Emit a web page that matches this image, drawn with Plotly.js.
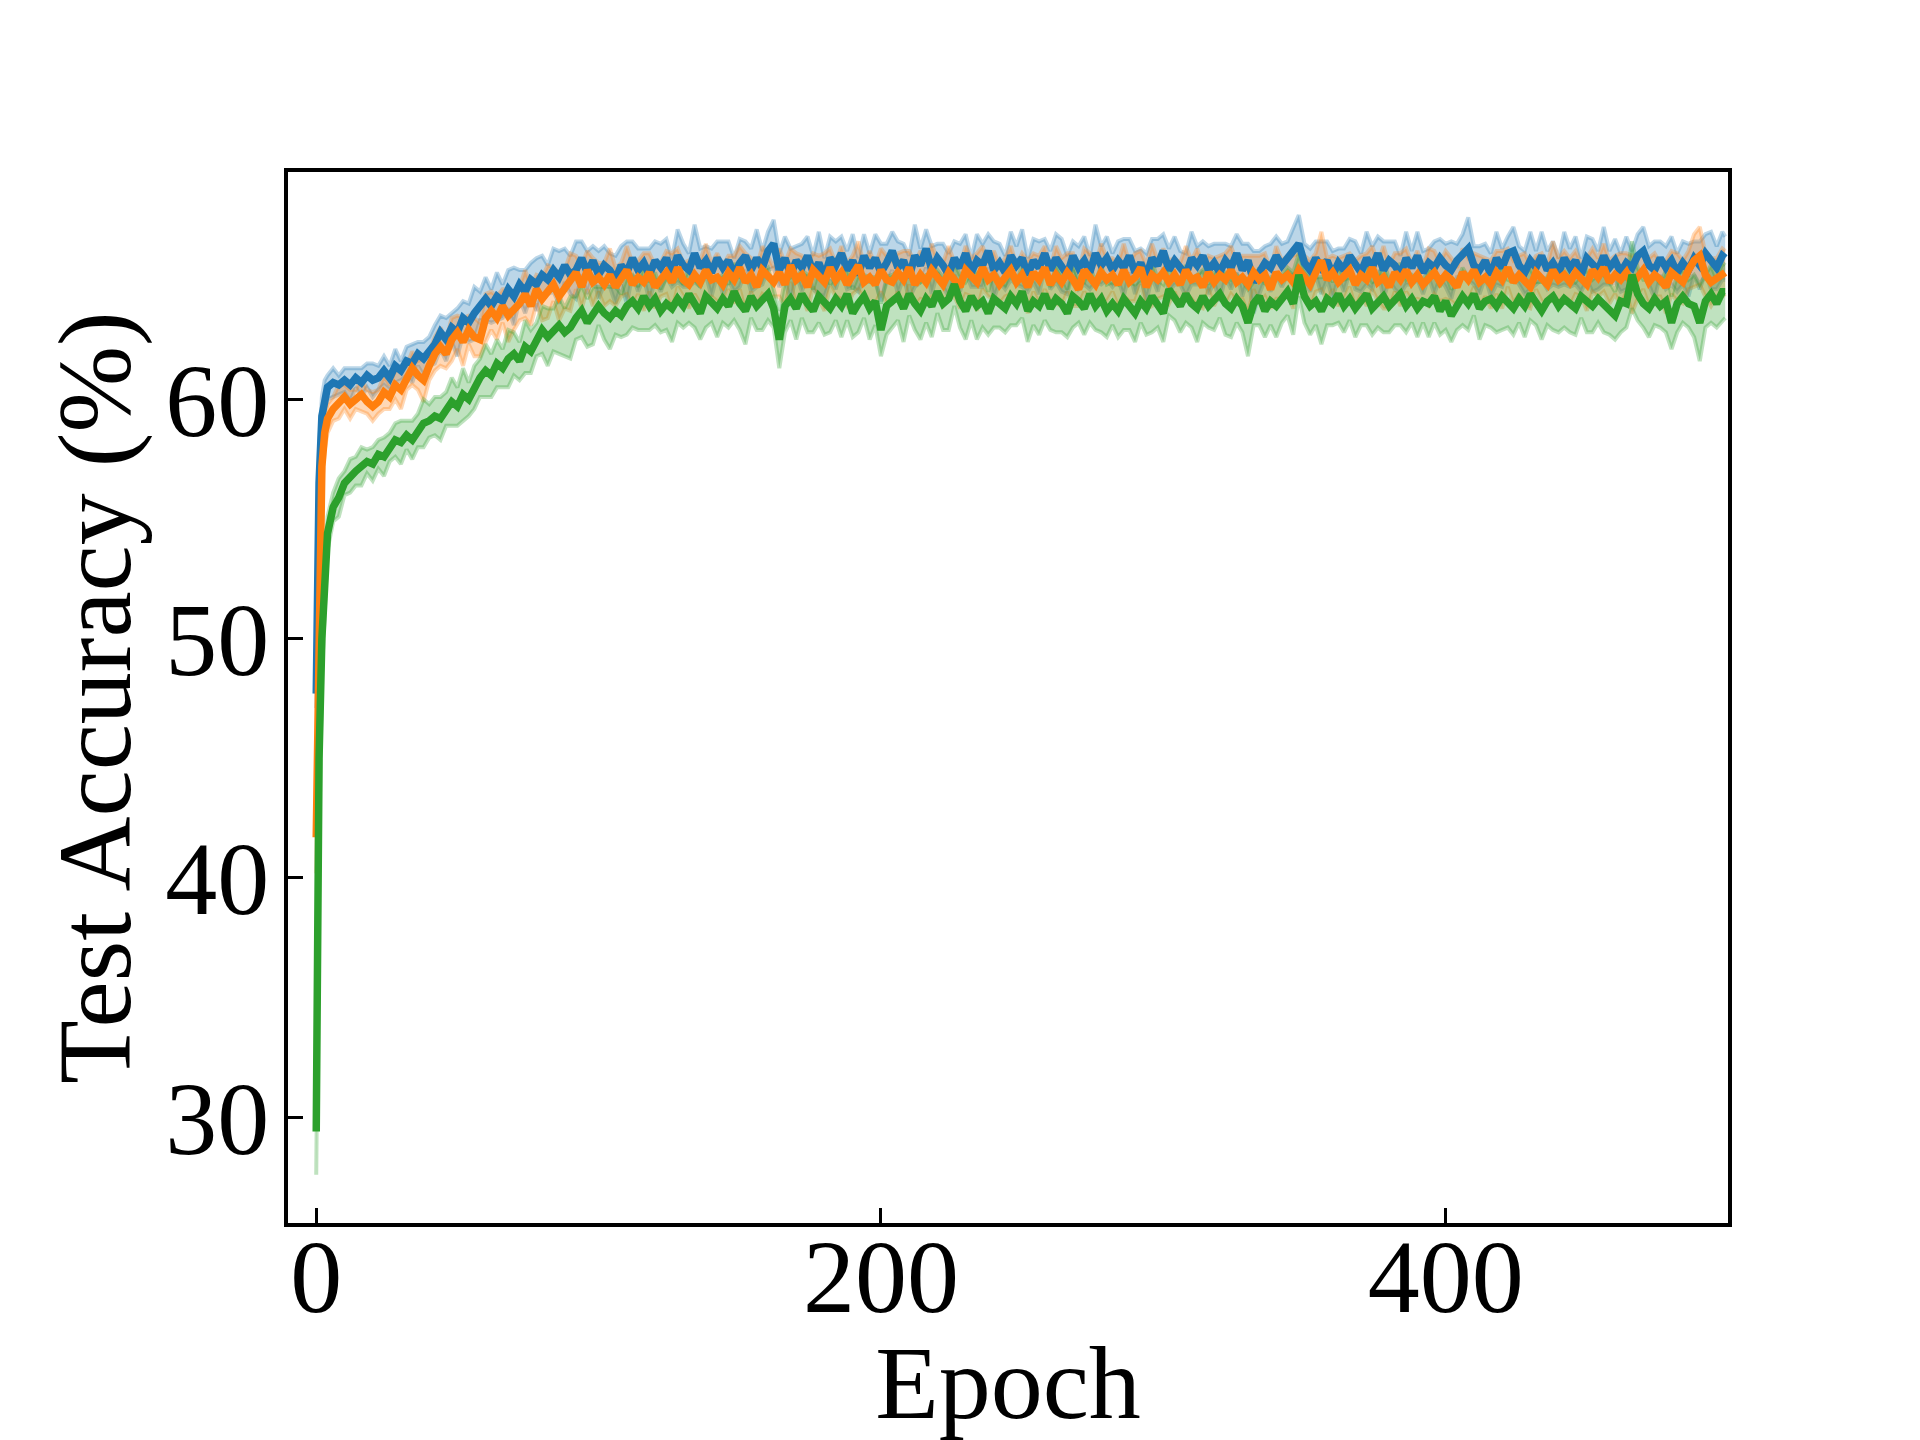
<!DOCTYPE html>
<html>
<head>
<meta charset="utf-8">
<script src="https://cdn.plot.ly/plotly-3.0.1.min.js"></script>
<style>
  body { margin: 0; background: #fff; }
  #chart { width: 1920px; height: 1440px; }
</style>
</head>
<body>
<div id="chart"></div>
<script>
// epochs: each of the first four, then every second epoch
var epochs = [0, 1, 2, 3,
    4, 6, 8, 10, 12, 14, 16, 18, 20, 22,
    24, 26, 28, 30, 32, 34, 36, 38, 40, 42,
    44, 46, 48, 50, 52, 54, 56, 58, 60, 62,
    64, 66, 68, 70, 72, 74, 76, 78, 80, 82,
    84, 86, 88, 90, 92, 94, 96, 98, 100, 102,
    104, 106, 108, 110, 112, 114, 116, 118, 120, 122,
    124, 126, 128, 130, 132, 134, 136, 138, 140, 142,
    144, 146, 148, 150, 152, 154, 156, 158, 160, 162,
    164, 166, 168, 170, 172, 174, 176, 178, 180, 182,
    184, 186, 188, 190, 192, 194, 196, 198, 200, 202,
    204, 206, 208, 210, 212, 214, 216, 218, 220, 222,
    224, 226, 228, 230, 232, 234, 236, 238, 240, 242,
    244, 246, 248, 250, 252, 254, 256, 258, 260, 262,
    264, 266, 268, 270, 272, 274, 276, 278, 280, 282,
    284, 286, 288, 290, 292, 294, 296, 298, 300, 302,
    304, 306, 308, 310, 312, 314, 316, 318, 320, 322,
    324, 326, 328, 330, 332, 334, 336, 338, 340, 342,
    344, 346, 348, 350, 352, 354, 356, 358, 360, 362,
    364, 366, 368, 370, 372, 374, 376, 378, 380, 382,
    384, 386, 388, 390, 392, 394, 396, 398, 400, 402,
    404, 406, 408, 410, 412, 414, 416, 418, 420, 422,
    424, 426, 428, 430, 432, 434, 436, 438, 440, 442,
    444, 446, 448, 450, 452, 454, 456, 458, 460, 462,
    464, 466, 468, 470, 472, 474, 476, 478, 480, 482,
    484, 486, 488, 490, 492, 494, 496, 498,
    499];

var blueMean = [47.7, 56.5, 59.3, 60.2,
    60.5, 60.7, 60.6, 60.8, 60.6, 60.9, 60.7, 61.0, 60.8, 60.9,
    61.2, 60.9, 61.4, 61.2, 61.6, 61.5, 61.9, 61.7, 62.0, 62.3,
    62.8, 62.5, 63.0, 62.8, 63.4, 63.2, 63.6, 63.9, 64.2, 63.9,
    64.3, 64.1, 64.6, 64.3, 64.8, 64.5, 65.0, 64.8, 65.2, 65.0,
    65.4, 65.1, 65.6, 65.2, 65.4, 65.9, 65.3, 65.8, 65.2, 65.6,
    65.4, 65.0, 65.6, 65.3, 65.9, 65.4, 65.7, 65.2, 65.8, 65.5,
    65.9, 65.3, 66.0, 65.6, 65.4, 66.1, 65.5, 65.8, 65.3, 65.9,
    65.5, 65.8, 65.2, 65.7, 66.0, 65.4, 65.9, 65.5, 66.2, 66.5,
    65.4, 65.9, 65.2, 65.8, 65.5, 66.0, 65.3, 65.7, 65.1, 65.9,
    65.6, 66.1, 65.4, 65.8, 65.2, 66.0, 65.5, 65.9, 65.3, 65.7,
    66.2, 65.5, 65.8, 65.1, 66.0, 65.6, 66.3, 65.4, 65.9, 65.6,
    65.2, 65.9, 65.5, 66.1, 65.3, 65.8, 65.6, 66.2, 65.4, 65.7,
    65.3, 66.0, 65.6, 65.9, 65.2, 65.8, 65.5, 66.1, 65.4, 65.9,
    65.6, 65.2, 66.0, 65.5, 65.8, 65.3, 66.1, 65.6, 65.9, 65.4,
    65.8, 65.5, 66.0, 65.3, 65.7, 65.1, 65.9, 65.6, 66.2, 65.4,
    65.8, 65.5, 65.2, 65.9, 65.6, 66.0, 65.4, 65.7, 65.3, 65.8,
    65.5, 66.1, 65.4, 65.8, 64.9, 65.3, 65.7, 65.5, 66.0, 65.6,
    65.9, 66.2, 66.5, 65.7, 65.4, 65.9, 65.5, 65.8, 65.2, 65.7,
    65.4, 66.0, 65.6, 65.3, 65.9, 65.5, 66.1, 65.4, 65.8, 65.6,
    65.2, 65.9, 65.5, 66.0, 65.3, 65.7, 65.5, 65.9, 65.6, 65.4,
    65.8, 66.0, 66.3, 65.6, 65.4, 65.8, 65.2, 65.9, 65.5, 66.1,
    66.2, 65.6, 65.3, 65.8, 65.5, 66.0, 65.4, 65.7, 65.3, 65.9,
    65.5, 65.8, 65.2, 65.9, 65.6, 65.4, 66.0, 65.5, 65.8, 65.3,
    65.7, 65.5, 66.0, 66.2, 65.6, 65.4, 65.9, 65.5, 65.8, 65.3,
    65.7, 65.4, 65.9, 65.6, 66.1, 65.8, 65.5, 66.0,
    65.9];
var blueStd = [0.6, 1.5, 0.8, 0.6,
    0.5, 0.6, 0.4, 0.5, 0.7, 0.4, 0.6, 0.5, 0.7, 0.5,
    0.6, 0.5, 0.7, 0.4, 0.6, 0.8, 0.5, 0.7, 0.6, 0.8,
    0.7, 0.9, 0.6, 1.0, 0.7, 0.8, 1.1, 0.6, 0.9, 0.7,
    1.0, 0.7, 0.8, 1.2, 0.6, 0.9, 0.7, 1.1, 0.8, 0.6,
    0.9, 1.1, 0.7, 0.8, 1.2, 0.7, 0.9, 0.6, 1.0, 0.8,
    0.7, 1.0, 0.8, 1.3, 0.7, 0.9, 0.6, 1.1, 0.8, 1.0,
    0.8, 0.6, 1.1, 0.9, 0.7, 1.2, 0.8, 0.6, 1.0, 0.7,
    1.1, 0.8, 0.7, 1.0, 0.6, 0.9, 1.2, 0.7, 0.8, 1.0,
    0.7, 0.9, 1.1, 0.6, 1.0, 0.8, 0.7, 1.3, 0.8, 0.9,
    1.0, 0.7, 0.8, 1.1, 0.7, 0.9, 0.6, 1.0, 1.2, 0.8,
    0.8, 1.1, 0.7, 0.9, 1.3, 0.7, 0.8, 1.0, 0.6, 0.9,
    0.9, 0.7, 1.0, 0.8, 0.6, 1.1, 0.9, 0.7, 1.2, 0.8,
    0.7, 1.0, 0.8, 1.2, 0.7, 0.9, 1.1, 0.6, 0.8, 1.0,
    1.1, 0.8, 0.6, 0.9, 1.0, 0.7, 1.2, 0.8, 0.9, 0.7,
    0.8, 1.2, 0.7, 0.9, 0.6, 1.0, 0.8, 1.1, 0.7, 0.9,
    1.0, 0.7, 0.9, 1.1, 0.8, 0.6, 1.0, 0.8, 1.2, 0.7,
    0.9, 0.8, 1.1, 0.7, 1.3, 0.9, 0.7, 1.0, 0.8, 0.9,
    0.7, 1.0, 1.2, 0.8, 0.9, 0.7, 1.1, 0.8, 1.0, 0.6,
    0.9, 0.7, 1.0, 0.8, 1.1, 0.9, 0.7, 1.2, 0.8, 1.0,
    0.8, 1.1, 0.7, 1.0, 0.9, 0.6, 1.1, 0.8, 0.9, 1.2,
    0.7, 0.9, 1.3, 0.8, 1.0, 0.7, 0.9, 1.1, 0.8, 0.7,
    1.0, 0.8, 0.9, 1.2, 0.7, 1.0, 0.8, 0.9, 0.6, 1.1,
    0.8, 1.0, 0.7, 0.9, 1.1, 0.8, 1.2, 0.7, 0.9, 0.8,
    1.1, 0.7, 0.9, 1.0, 0.8, 1.2, 0.7, 0.9, 1.0, 0.8,
    0.9, 1.1, 0.7, 1.0, 0.8, 1.2, 0.9, 1.0,
    0.9];

var orangeMean = [41.7, 52.7, 57.2, 58.6,
    59.2, 59.6, 59.9, 60.1, 59.8, 60.0, 60.2, 59.9, 59.7, 59.9,
    60.3, 60.1, 60.6, 60.4, 60.9, 61.3, 61.0, 60.8, 61.4, 61.9,
    62.2, 61.9, 62.5, 62.8, 62.4, 62.9, 62.6, 62.5, 63.4, 63.7,
    63.4, 63.9, 63.5, 63.7, 64.0, 64.4, 63.9, 64.6, 64.2, 64.5,
    64.8, 64.3, 64.6, 64.9, 65.3, 64.7, 65.4, 64.9, 65.1, 64.8,
    65.2, 64.7, 65.0, 65.4, 64.8, 65.1, 64.9, 65.3, 64.7, 65.0,
    65.3, 64.9, 65.5, 65.0, 64.8, 65.2, 64.9, 65.4, 65.0, 65.1,
    64.8, 65.3, 65.0, 65.5, 64.9, 65.2, 64.7, 65.4, 65.1, 64.9,
    65.3, 64.8, 65.6, 65.0, 65.2, 64.7, 65.4, 65.1, 64.9, 65.5,
    65.0, 65.3, 64.8, 65.2, 65.6, 64.9, 65.1, 64.8, 65.4, 65.0,
    64.9, 65.3, 65.0, 65.5, 64.8, 65.2, 64.9, 65.4, 65.1, 64.8,
    65.3, 65.0, 64.7, 65.4, 65.1, 64.9, 65.5, 65.0, 65.2, 64.8,
    65.1, 65.4, 64.9, 65.2, 64.7, 65.3, 65.0, 65.5, 64.8, 65.2,
    64.9, 65.3, 65.0, 64.6, 65.4, 65.1, 64.8, 65.3, 65.0, 65.2,
    64.8, 65.4, 64.9, 65.1, 65.5, 64.7, 65.2, 65.0, 65.3, 64.9,
    65.2, 64.8, 65.4, 65.0, 65.1, 64.7, 65.3, 64.9, 65.2, 65.0,
    65.4, 64.9, 65.1, 64.8, 65.3, 65.0, 65.2, 64.6, 65.3, 65.0,
    65.2, 64.9, 65.4, 65.1, 64.8, 65.3, 65.8, 65.0, 65.3, 64.9,
    65.1, 65.4, 64.8, 65.2, 65.0, 65.5, 64.9, 65.1, 64.7, 65.3,
    65.0, 65.4, 64.9, 65.2, 64.8, 65.1, 65.3, 64.9, 65.2, 65.0,
    64.7, 65.3, 65.0, 65.4, 64.9, 65.1, 64.8, 65.3, 65.0, 65.5,
    64.9, 65.2, 65.0, 64.7, 65.3, 65.1, 64.8, 65.4, 65.0, 65.2,
    64.9, 65.3, 65.0, 64.8, 65.4, 65.1, 65.5, 64.9, 65.2, 65.0,
    65.3, 64.8, 65.1, 65.4, 64.9, 65.2, 65.0, 64.7, 65.3, 65.1,
    64.9, 65.4, 65.8, 66.0, 65.2, 64.9, 65.1, 65.3,
    65.3];
var orangeStd = [1.5, 2.0, 1.0, 0.7,
    0.6, 0.5, 0.7, 0.5, 0.6, 0.4, 0.7, 0.5, 0.6, 0.5,
    0.7, 0.5, 0.6, 0.8, 0.5, 0.7, 0.6, 0.9, 0.6, 0.7,
    0.8, 0.6, 0.9, 0.7, 1.0, 0.6, 0.8, 0.7, 1.0, 0.8,
    0.9, 0.7, 1.1, 0.8, 0.7, 1.0, 0.8, 0.6, 0.9, 1.1,
    0.7, 1.0, 0.8, 1.2, 0.7, 0.9, 0.8, 1.0, 0.6, 0.9,
    1.1, 0.8, 0.7, 1.0, 0.9, 0.7, 1.2, 0.8, 0.9, 0.7,
    0.9, 1.2, 0.8, 0.7, 1.0, 0.8, 0.9, 1.1, 0.7, 1.0,
    0.8, 0.7, 1.0, 0.9, 1.2, 0.7, 0.8, 1.0, 0.9, 0.6,
    1.0, 0.9, 0.7, 1.1, 0.8, 1.0, 0.7, 0.9, 1.2, 0.8,
    0.7, 1.1, 0.9, 0.8, 1.0, 0.7, 1.1, 0.8, 0.9, 1.0,
    0.9, 0.8, 1.2, 0.7, 0.9, 1.0, 0.8, 1.1, 0.7, 0.9,
    1.1, 0.7, 0.9, 1.0, 0.8, 1.2, 0.9, 0.7, 1.0, 0.8,
    0.8, 1.0, 0.7, 0.9, 1.1, 0.8, 1.0, 0.9, 0.7, 1.2,
    1.0, 0.8, 1.1, 0.7, 0.9, 1.0, 0.8, 1.2, 0.9, 0.7,
    0.9, 1.1, 0.8, 1.0, 0.7, 0.9, 1.3, 0.8, 1.0, 0.9,
    0.7, 0.9, 1.0, 0.8, 1.2, 0.9, 0.7, 1.0, 0.8, 1.1,
    1.0, 0.8, 0.9, 1.2, 0.7, 1.0, 0.9, 0.8, 1.1, 0.8,
    0.8, 1.1, 0.7, 0.9, 1.0, 0.8, 1.2, 0.9, 0.7, 1.0,
    0.9, 0.7, 1.0, 0.8, 1.1, 0.9, 0.8, 1.3, 0.9, 0.8,
    1.1, 0.9, 0.8, 1.0, 0.7, 1.2, 0.9, 0.8, 1.0, 0.9,
    0.8, 1.0, 0.9, 0.7, 1.1, 0.8, 1.0, 0.9, 1.2, 0.8,
    0.9, 0.8, 1.1, 0.9, 0.7, 1.0, 0.8, 1.2, 0.9, 1.0,
    1.0, 0.9, 0.7, 1.1, 0.9, 0.8, 1.0, 0.9, 0.8, 1.1,
    0.8, 1.2, 0.9, 0.8, 1.0, 0.9, 0.7, 1.1, 0.9, 1.0,
    0.9, 0.8, 1.1, 1.2, 0.9, 1.0, 0.8, 1.0,
    0.9];

var greenMean = [29.4, 45.0, 50.0, 52.3,
    54.4, 55.5, 55.9, 56.5, 56.8, 57.0, 57.2, 57.4, 57.3, 57.7,
    57.6, 58.0, 58.3, 58.2, 58.5, 58.3, 58.7, 59.0, 59.1, 59.3,
    59.2, 59.6, 59.9, 59.7, 60.2, 60.0, 60.5, 60.9, 61.2, 61.0,
    61.5, 61.3, 61.7, 61.9, 61.6, 62.2, 62.0, 62.5, 62.9, 62.6,
    62.9, 63.1, 62.8, 63.0, 63.4, 63.7, 63.2, 63.5, 63.9, 63.6,
    63.4, 63.7, 63.5, 63.9, 64.1, 63.8, 64.3, 63.9, 64.2, 63.7,
    64.0, 63.8, 64.2, 63.9, 64.4, 64.0, 63.6, 64.3, 64.1, 63.8,
    64.2, 63.9, 64.5, 64.0, 63.7, 64.3, 63.9, 64.1, 64.4, 63.8,
    62.5, 63.9, 64.2, 63.8, 64.4, 64.0, 63.7, 64.3, 64.1, 63.8,
    64.2, 63.9, 64.4, 63.6, 64.0, 64.3, 63.8, 64.1, 62.9, 63.9,
    64.1, 64.3, 63.8, 64.4, 64.0, 63.7, 64.2, 63.9, 64.5, 64.0,
    64.2, 64.8, 64.1, 63.7, 64.3, 63.9, 64.1, 63.6, 64.2, 64.0,
    63.8, 64.3, 64.0, 64.5, 63.7, 64.1, 63.9, 64.4, 63.8, 64.2,
    64.0, 63.6, 64.3, 64.1, 63.8, 64.4, 63.9, 64.2, 63.7, 64.0,
    63.7, 64.2, 63.9, 63.6, 64.1, 63.8, 64.3, 64.0, 63.6, 64.6,
    64.2, 63.9, 64.4, 64.0, 63.8, 64.3, 63.9, 64.1, 64.4, 64.0,
    63.8, 64.2, 63.9, 63.2, 64.0, 64.3, 63.7, 64.1, 63.9, 64.2,
    64.5, 64.0, 65.2, 64.3, 63.9, 64.1, 63.7, 64.2, 64.0, 64.4,
    63.9, 64.2, 63.8, 64.1, 64.4, 63.8, 64.0, 64.3, 63.9, 64.1,
    64.4, 63.9, 64.2, 63.8, 64.1, 64.0, 64.3, 63.7, 64.1, 63.5,
    63.9, 64.3, 64.0, 64.4, 63.8, 64.1, 64.2, 63.9, 64.3, 64.0,
    63.8, 64.2, 63.9, 64.4, 64.0, 63.7, 64.1, 64.3, 63.9, 64.2,
    64.0, 63.8, 64.3, 64.1, 63.9, 64.2, 64.0, 63.8, 63.5, 64.1,
    64.0, 65.2, 64.4, 64.0, 63.8, 64.2, 63.9, 64.1, 63.2, 64.0,
    64.3, 64.0, 63.9, 63.2, 64.1, 64.4, 64.0, 64.5,
    64.5];
var greenStd = [1.8, 4.0, 1.5, 0.8,
    0.7, 0.6, 0.8, 0.5, 0.7, 0.6, 0.8, 0.5, 0.7, 0.6,
    0.8, 0.6, 0.7, 0.9, 0.6, 0.8, 0.7, 1.0, 0.7, 0.8,
    0.9, 0.7, 1.0, 0.8, 1.1, 0.7, 0.9, 0.8, 1.1, 0.9,
    1.0, 0.8, 1.2, 0.9, 0.8, 1.1, 0.9, 0.7, 1.0, 1.2,
    0.9, 1.2, 1.0, 1.3, 0.9, 1.1, 1.0, 1.2, 0.8, 1.1,
    1.3, 1.0, 0.9, 1.2, 1.1, 0.9, 1.4, 1.0, 1.1, 0.9,
    1.1, 1.4, 1.0, 0.9, 1.2, 1.0, 1.1, 1.3, 0.9, 1.2,
    1.0, 0.9, 1.2, 1.1, 1.4, 0.9, 1.0, 1.2, 1.1, 0.8,
    1.2, 1.1, 0.9, 1.3, 1.0, 1.2, 0.9, 1.1, 1.4, 1.0,
    0.9, 1.3, 1.1, 1.0, 1.2, 0.9, 1.3, 1.0, 1.1, 1.2,
    1.1, 1.0, 1.4, 0.9, 1.1, 1.2, 1.0, 1.3, 0.9, 1.1,
    1.3, 0.9, 1.1, 1.2, 1.0, 1.4, 1.1, 0.9, 1.2, 1.0,
    1.0, 1.2, 0.9, 1.1, 1.3, 1.0, 1.2, 1.1, 0.9, 1.4,
    1.2, 1.0, 1.3, 0.9, 1.1, 1.2, 1.0, 1.4, 1.1, 0.9,
    1.1, 1.3, 1.0, 1.2, 0.9, 1.1, 1.5, 1.0, 1.2, 1.1,
    0.9, 1.1, 1.2, 1.0, 1.4, 1.1, 0.9, 1.2, 1.0, 1.3,
    1.2, 1.0, 1.1, 1.4, 0.9, 1.2, 1.1, 1.0, 1.3, 1.0,
    1.0, 1.3, 0.9, 1.1, 1.2, 1.0, 1.4, 1.1, 0.9, 1.2,
    1.1, 0.9, 1.2, 1.0, 1.3, 1.1, 1.0, 1.5, 1.1, 1.0,
    1.3, 1.1, 1.0, 1.2, 0.9, 1.4, 1.1, 1.0, 1.2, 1.1,
    1.0, 1.2, 1.1, 0.9, 1.3, 1.0, 1.2, 1.1, 1.4, 1.0,
    1.1, 1.0, 1.3, 1.1, 0.9, 1.2, 1.0, 1.4, 1.1, 1.2,
    1.2, 1.1, 0.9, 1.3, 1.1, 1.0, 1.2, 1.1, 1.0, 1.3,
    1.0, 1.4, 1.1, 1.0, 1.2, 1.1, 0.9, 1.3, 1.1, 1.2,
    1.1, 1.0, 1.3, 1.6, 1.1, 1.2, 1.0, 1.2,
    1.1];

var series = [
    {mean: blueMean, std: blueStd, color: '31,119,180'},
    {mean: orangeMean, std: orangeStd, color: '255,127,14'},
    {mean: greenMean, std: greenStd, color: '44,160,44'}
];

var data = [];

// shaded mean +/- std bands go underneath every line
series.forEach(function (s) {
    var lower = s.mean.map(function (v, i) { return v - s.std[i]; });
    var upper = s.mean.map(function (v, i) { return v + s.std[i]; });
    data.push({
        x: epochs, y: lower, type: 'scatter', mode: 'lines',
        line: {color: 'rgba(' + s.color + ',0.3)', width: 4},
        hoverinfo: 'skip'
    });
    data.push({
        x: epochs, y: upper, type: 'scatter', mode: 'lines',
        fill: 'tonexty', fillcolor: 'rgba(' + s.color + ',0.3)',
        line: {color: 'rgba(' + s.color + ',0.3)', width: 4},
        hoverinfo: 'skip'
    });
});

series.forEach(function (s) {
    data.push({
        x: epochs, y: s.mean, type: 'scatter', mode: 'lines',
        line: {color: 'rgb(' + s.color + ')', width: 7.5}
    });
});

var serif = {family: 'Liberation Serif, Times New Roman, serif', size: 104, color: '#000'};

var axisStyle = {
    showgrid: false,
    zeroline: false,
    showline: true,
    linecolor: '#000',
    linewidth: 4,
    mirror: true,
    ticks: 'inside',
    ticklen: 15,
    tickwidth: 3,
    tickcolor: '#000',
    tickfont: serif,
    automargin: false
};

var layout = {
    width: 1920,
    height: 1440,
    margin: {l: 288, r: 192, t: 172, b: 217},
    paper_bgcolor: '#fff',
    plot_bgcolor: '#fff',
    showlegend: false,
    xaxis: Object.assign({}, axisStyle, {
        range: [-10, 500],
        tickvals: [0, 200, 400],
        ticklabelstandoff: -40,
        title: {text: 'Epoch', font: serif, standoff: 50}
    }),
    yaxis: Object.assign({}, axisStyle, {
        range: [25.58, 69.5],
        tickvals: [30, 40, 50, 60],
        ticklabelstandoff: -6,
        title: {text: 'Test Accuracy (%)', font: serif, standoff: 1}
    })
};

Plotly.newPlot('chart', data, layout, {displayModeBar: false, staticPlot: true});
</script>
</body>
</html>
